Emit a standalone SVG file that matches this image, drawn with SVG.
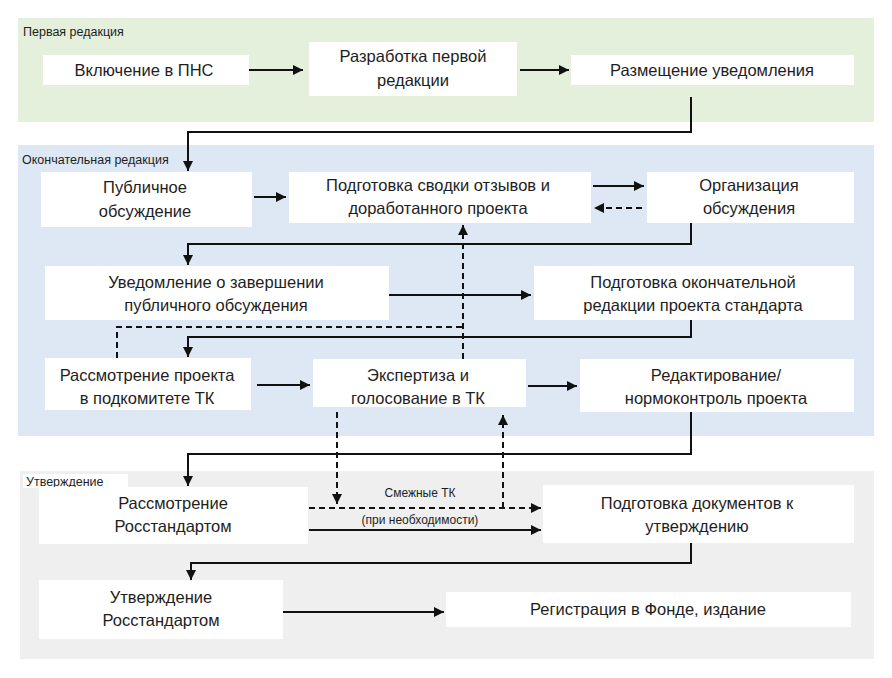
<svg xmlns="http://www.w3.org/2000/svg" width="892" height="678" viewBox="0 0 892 678">
<defs>
<style>
.bg{fill:#ffffff}
.p1{fill:#e4efdc}
.p2{fill:#dde8f4}
.p3{fill:#efefef}
.box{fill:#ffffff}
.t{font-family:"Liberation Sans",Arial,sans-serif;font-size:16.5px;fill:#1e1e1e;text-anchor:middle}
.lab{font-family:"Liberation Sans",Arial,sans-serif;font-size:12.5px;fill:#1e1e1e}
.sm{font-family:"Liberation Sans",Arial,sans-serif;font-size:12px;fill:#1e1e1e;text-anchor:middle}
.c{fill:none;stroke:#111;stroke-width:2}
.d{fill:none;stroke:#111;stroke-width:2;stroke-dasharray:6 4}
</style>
<marker id="ah" viewBox="0 0 10 10" refX="10" refY="5" markerWidth="5" markerHeight="5" orient="auto" markerUnits="strokeWidth">
<path d="M0,0 L10,5 L0,10 z" fill="#111"/>
</marker>
</defs>
<rect class="bg" x="0" y="0" width="892" height="678"/>
<g id="panels">
<rect class="p1" x="18" y="18" width="856" height="104"/>
<text class="lab" x="23" y="36">Первая редакция</text>
<rect class="p2" x="18" y="145" width="856" height="291"/>
<text class="lab" x="22" y="164">Окончательная редакция</text>
<rect class="p3" x="20" y="471" width="854" height="188"/>
<rect class="box" x="23" y="474" width="105" height="14"/>
<text class="lab" x="26" y="486">Утверждение</text>
</g>
<g id="n1"><rect class="box" x="43" y="55" width="206" height="30"/><text class="t" x="144" y="76">Включение в ПНС</text></g>
<g id="n2"><rect class="box" x="309" y="42" width="208" height="54"/><text class="t" x="413" y="62">Разработка первой</text><text class="t" x="413" y="86">редакции</text></g>
<g id="n3"><rect class="box" x="571" y="55" width="283" height="30"/><text class="t" x="712" y="76">Размещение уведомления</text></g>
<g id="n4"><rect class="box" x="41" y="172" width="211" height="55"/><text class="t" x="145" y="193">Публичное</text><text class="t" x="145" y="217">обсуждение</text></g>
<g id="n5"><rect class="box" x="289" y="172" width="302" height="51"/><text class="t" x="438" y="191">Подготовка сводки отзывов и</text><text class="t" x="438" y="214">доработанного проекта</text></g>
<g id="n6"><rect class="box" x="647" y="172" width="207" height="51"/><text class="t" x="749" y="191">Организация</text><text class="t" x="749" y="214">обсуждения</text></g>
<g id="n7"><rect class="box" x="45" y="266" width="344" height="54"/><text class="t" x="216" y="288">Уведомление о завершении</text><text class="t" x="216" y="311">публичного обсуждения</text></g>
<g id="n8"><rect class="box" x="534" y="266" width="320" height="54"/><text class="t" x="693" y="288">Подготовка окончательной</text><text class="t" x="693" y="311">редакции проекта стандарта</text></g>
<g id="n9"><rect class="box" x="45" y="358" width="206" height="52"/><text class="t" x="147" y="381">Рассмотрение проекта</text><text class="t" x="147" y="404">в подкомитете ТК</text></g>
<g id="n10"><rect class="box" x="313" y="359" width="213" height="48"/><text class="t" x="418" y="381">Экспертиза и</text><text class="t" x="418" y="404">голосование в ТК</text></g>
<g id="n11"><rect class="box" x="580" y="359" width="274" height="53"/><text class="t" x="716" y="381">Редактирование/</text><text class="t" x="716" y="404">нормоконтроль проекта</text></g>
<g id="n12"><rect class="box" x="39" y="487" width="269" height="57"/><text class="t" x="173" y="509">Рассмотрение</text><text class="t" x="173" y="532">Росстандартом</text></g>
<g id="n13"><rect class="box" x="543" y="485" width="311" height="58"/><text class="t" x="697" y="509">Подготовка документов к</text><text class="t" x="697" y="532">утверждению</text></g>
<g id="n14"><rect class="box" x="39" y="580" width="244" height="59"/><text class="t" x="161" y="603">Утверждение</text><text class="t" x="161" y="626">Росстандартом</text></g>
<g id="n15"><rect class="box" x="446" y="592" width="405" height="35"/><text class="t" x="648" y="615">Регистрация в Фонде, издание</text></g>
<g id="connectors">
<path class="c" d="M249,70 H303" marker-end="url(#ah)"/>
<path class="c" d="M520,70 H569" marker-end="url(#ah)"/>
<path class="c" d="M691,97 V132 H188 V171" marker-end="url(#ah)"/>
<path class="c" d="M254,197 H286" marker-end="url(#ah)"/>
<path class="c" d="M593,186 H644" marker-end="url(#ah)"/>
<path class="d" d="M642,208 H594" marker-end="url(#ah)"/>
<path class="c" d="M691,223 V244 H188 V265" marker-end="url(#ah)"/>
<path class="c" d="M389,295 H531" marker-end="url(#ah)"/>
<path class="c" d="M691,320 V337 H188 V357" marker-end="url(#ah)"/>
<path class="d" d="M117,358 V327 H463"/>
<path class="d" d="M463,359 V225" marker-end="url(#ah)"/>
<path class="c" d="M257,385 H310" marker-end="url(#ah)"/>
<path class="c" d="M528,386 H577" marker-end="url(#ah)"/>
<path class="c" d="M691,412 V454 H188 V486" marker-end="url(#ah)"/>
<path class="d" d="M337,412 V504" marker-end="url(#ah)"/>
<path class="d" d="M309,508 H541" marker-end="url(#ah)"/>
<path class="d" d="M503,508 V415" marker-end="url(#ah)"/>
<text class="sm" x="420" y="497">Смежные ТК</text>
<text class="sm" x="420" y="524">(при необходимости)</text>
<path class="c" d="M309,530 H541" marker-end="url(#ah)"/>
<path class="c" d="M691,543 V563 H191 V580" marker-end="url(#ah)"/>
<path class="c" d="M283,612 H444" marker-end="url(#ah)"/>
</g>
</svg>
